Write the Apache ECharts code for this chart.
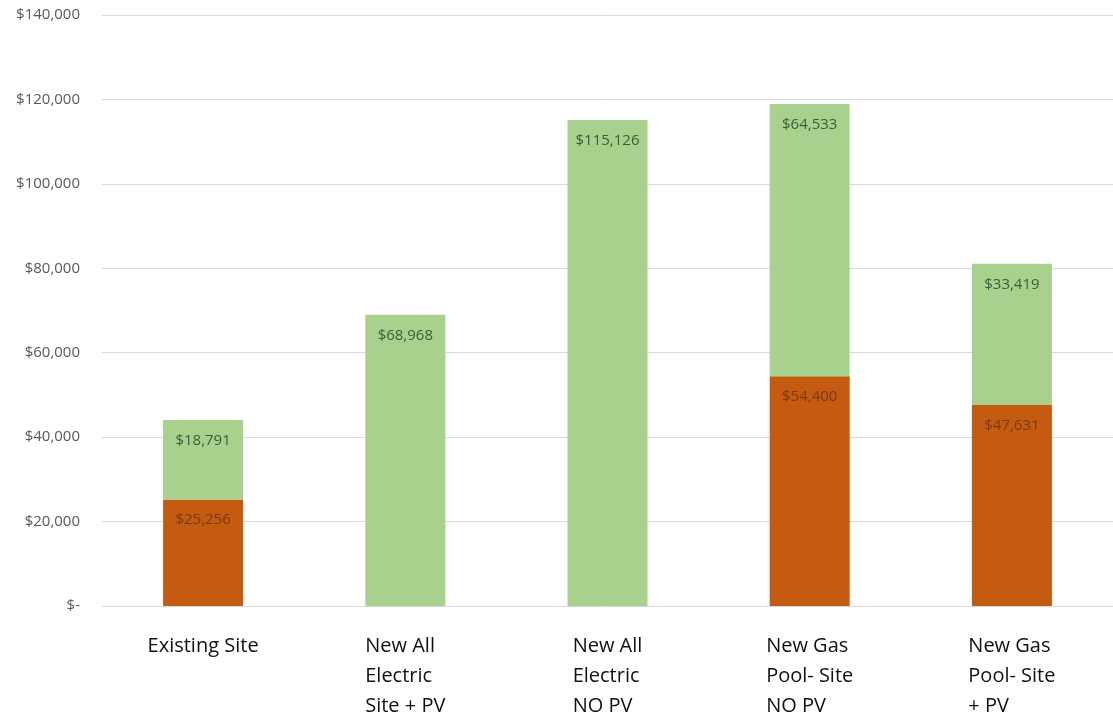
<!DOCTYPE html>
<html>
<head>
<meta charset="utf-8">
<script src="https://cdn.jsdelivr.net/npm/echarts@6/dist/echarts.min.js"></script>
<style>
  html, body { margin: 0; padding: 0; background: #ffffff; }
  #chart { width: 1113px; height: 721px; }
</style>
</head>
<body>
<div id="chart"></div>
<script>
// Scenario names (one line per entry of each sub-list)
const categories = [
  ['Existing Site'],
  ['New All', 'Electric', 'Site + PV'],
  ['New All', 'Electric', 'NO PV'],
  ['New Gas', 'Pool- Site', 'NO PV'],
  ['New Gas', 'Pool- Site', '+ PV']
];
// Lower (orange) segment of each stack
const orangeValues = [25256, 0, 0, 54400, 47631];
// Upper (green) segment of each stack
const greenValues = [18791, 68968, 115126, 64533, 33419];
// Value axis ticks
const yMin = 0;
const yMax = 140000;
const yStep = 20000;

const money = v => '$' + Math.round(v).toLocaleString('en-US');

const chart = echarts.init(document.getElementById('chart'), null, { renderer: 'canvas' });

const labelFont = '"Open Sans", "Liberation Sans", sans-serif';

chart.setOption({
  animation: false,
  backgroundColor: '#ffffff',
  grid: { left: 102, right: 0, top: 15, bottom: 115, containLabel: false },
  xAxis: {
    type: 'category',
    data: categories.map(lines => lines.join('\n')),
    axisLine: { show: false },
    axisTick: { show: false },
    axisLabel: {
      interval: 0,
      margin: 25,
      formatter: v => v.split('\n').map(s => '{a|' + s + '}').join('\n'),
      rich: {
        a: {
          align: 'left',
          fontFamily: labelFont,
          fontSize: 20,
          lineHeight: 30,
          color: '#111111'
        }
      }
    }
  },
  yAxis: {
    type: 'value',
    min: yMin,
    max: yMax,
    interval: yStep,
    axisLine: { show: false },
    axisTick: { show: false },
    splitLine: { lineStyle: { color: '#d9d9d9', width: 1 } },
    axisLabel: {
      margin: 22,
      fontFamily: labelFont,
      fontSize: 15,
      color: '#595959',
      formatter: v => (v === 0 ? '$-' : money(v))
    }
  },
  series: [
    {
      name: 'Orange',
      type: 'bar',
      stack: 'total',
      barWidth: 80,
      data: orangeValues,
      itemStyle: { color: '#c55a11' },
      label: {
        show: true,
        position: 'insideTop',
        distance: 13,
        fontFamily: labelFont,
        fontSize: 15,
        color: '#7a3a14',
        formatter: p => (p.value ? money(p.value) : '')
      }
    },
    {
      name: 'Green',
      type: 'bar',
      stack: 'total',
      barWidth: 80,
      data: greenValues,
      itemStyle: { color: '#a9d18e' },
      label: {
        show: true,
        position: 'insideTop',
        distance: 13,
        fontFamily: labelFont,
        fontSize: 15,
        color: '#3f5a3a',
        formatter: p => (p.value ? money(p.value) : '')
      }
    }
  ]
});
</script>
</body>
</html>
